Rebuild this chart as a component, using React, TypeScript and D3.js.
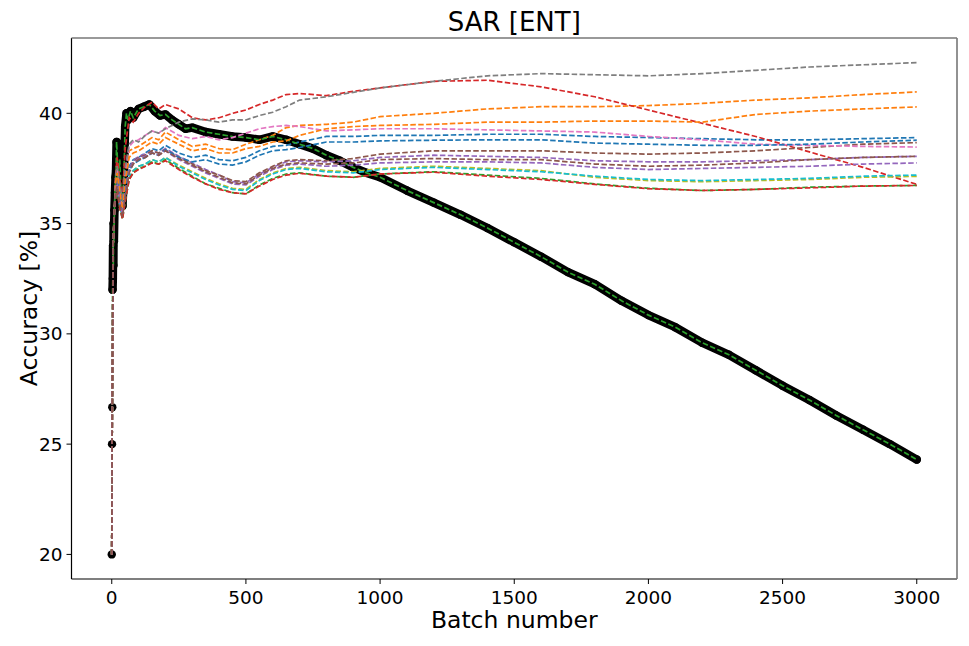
import * as d3 from 'd3';

// shared batch grid for the dashed comparison runs
const batches = [0, 2, 5, 10, 15, 20, 30, 40, 50, 65, 80, 100, 125, 150, 175, 200, 250, 300, 350, 400, 450, 500, 550, 600, 650, 700, 800, 900, 1000, 1200, 1400, 1600, 1800, 2000, 2200, 2400, 2600, 2800, 3000];

// main run (black markers + green dashes)
const mainBatches = [0, 1, 2, 3, 4, 5, 6, 7, 8, 10, 12, 14, 16, 18, 20, 25, 30, 35, 40, 45, 50, 55, 60, 70, 80, 100, 120, 140, 160, 180, 200, 225, 250, 275, 300, 350, 400, 450, 500, 550, 600, 650, 700, 750, 800, 850, 900, 950, 1000, 1100, 1200, 1300, 1400, 1500, 1600, 1700, 1800, 1900, 2000, 2100, 2200, 2300, 2400, 2500, 2600, 2700, 2800, 2900, 3000];
const mainAcc = [20, 25, 26.67, 32, 32.5, 34, 33.1, 35, 34.2, 35.6, 36.4, 37.1, 37.4, 38.7, 38.2, 36.8, 37.9, 36.3, 35.8, 37.2, 39.4, 40.0, 39.7, 40.1, 39.8, 40.2, 40.3, 40.4, 40.1, 39.9, 39.95, 39.7, 39.5, 39.3, 39.35, 39.15, 39.05, 38.95, 38.9, 38.8, 38.95, 38.8, 38.6, 38.4, 38.1, 37.85, 37.55, 37.3, 37.1, 36.5, 35.95, 35.4, 34.8, 34.15, 33.5, 32.8, 32.25, 31.5, 30.85, 30.3, 29.6, 29.05, 28.35, 27.65, 27.0, 26.3, 25.65, 25.0, 24.3];

const blueA = [20, 26.7, 34, 35.6, 36.8, 37.1, 36.2, 35.5, 36.6, 37.6, 37.9, 38.0, 38.2, 38.4, 38.3, 38.55, 38.2, 38.0, 38.1, 37.9, 37.85, 38.0, 38.3, 38.5, 38.55, 38.7, 38.95, 38.95, 39.0, 39.0, 39.05, 39.05, 38.95, 38.9, 38.85, 38.8, 38.8, 38.85, 38.9];
const orangeA = [20, 26.7, 34, 35.6, 37.0, 37.4, 36.6, 35.6, 37.2, 38.3, 38.4, 38.5, 38.7, 38.9, 38.8, 39.15, 38.8, 38.5, 38.6, 38.4, 38.35, 38.6, 38.8, 39.0, 39.35, 39.45, 39.5, 39.6, 39.85, 40.0, 40.2, 40.3, 40.3, 40.35, 40.45, 40.6, 40.7, 40.85, 40.97];
const redA = [20, 26.7, 34, 35.6, 37.3, 38.0, 37.0, 36.2, 38.4, 39.8, 39.6, 40.0, 40.3, 40.5, 40.2, 40.4, 40.2, 39.8, 39.7, 39.8, 40.0, 40.15, 40.4, 40.6, 40.85, 40.9, 40.8, 41.0, 41.15, 41.45, 41.5, 41.2, 40.75, 40.15, 39.55, 38.95, 38.25, 37.55, 36.78];
const purpleA = [20, 26.7, 34, 35.6, 36.6, 36.9, 36.1, 35.5, 36.4, 37.5, 37.85, 38.05, 38.15, 38.3, 38.2, 38.4, 38.05, 37.75, 37.45, 37.2, 36.9, 36.85, 37.25, 37.55, 37.8, 37.85, 37.8, 37.85, 38.0, 38.1, 38.05, 38.0, 37.85, 37.8, 37.8, 37.85, 37.9, 38.0, 38.05];
const brownA = [20, 26.7, 34, 35.6, 36.5, 36.8, 36.0, 35.4, 36.3, 37.4, 37.8, 38.0, 38.1, 38.3, 38.2, 38.35, 38.0, 37.7, 37.4, 37.2, 36.95, 36.9, 37.3, 37.6, 37.85, 37.9, 37.85, 37.95, 38.15, 38.3, 38.3, 38.3, 38.2, 38.15, 38.2, 38.3, 38.45, 38.6, 38.67];
const pink = [20, 26.7, 34, 35.6, 37.1, 37.5, 36.5, 35.7, 37.3, 38.5, 38.7, 38.8, 39.0, 39.2, 39.1, 39.35, 39.0, 38.85, 38.95, 38.8, 38.9, 39.1, 39.3, 39.4, 39.45, 39.4, 39.2, 39.25, 39.3, 39.3, 39.25, 39.2, 39.15, 38.95, 38.8, 38.6, 38.55, 38.5, 38.47];
const gray = [20, 26.7, 34, 35.6, 37.2, 37.6, 36.8, 36.0, 37.5, 38.6, 38.8, 38.7, 39.0, 39.2, 39.1, 39.3, 39.6, 39.75, 39.7, 39.6, 39.7, 39.7, 39.9, 40.05, 40.3, 40.6, 40.75, 40.95, 41.15, 41.45, 41.7, 41.8, 41.75, 41.7, 41.8, 41.95, 42.1, 42.2, 42.3];
const olive = [20, 26.7, 34, 35.6, 36.4, 36.6, 35.8, 35.3, 36.1, 37.1, 37.4, 37.6, 37.7, 37.9, 37.8, 38.0, 37.65, 37.35, 37.05, 36.8, 36.6, 36.55, 37.0, 37.3, 37.5, 37.55, 37.4, 37.35, 37.5, 37.6, 37.5, 37.4, 37.1, 36.95, 36.9, 36.95, 37.0, 37.1, 37.14];
const cyan = [20, 26.7, 34, 35.6, 36.4, 36.6, 35.8, 35.3, 36.1, 37.1, 37.4, 37.6, 37.7, 37.9, 37.8, 38.0, 37.6, 37.3, 37.0, 36.75, 36.55, 36.5, 36.95, 37.25, 37.45, 37.5, 37.35, 37.3, 37.45, 37.55, 37.45, 37.35, 37.15, 37.0, 36.95, 37.0, 37.05, 37.15, 37.2];
const blueB = [20, 26.7, 34, 35.6, 36.7, 37.0, 36.1, 35.4, 36.5, 37.4, 37.7, 37.85, 38.0, 38.2, 38.1, 38.35, 38.0, 37.8, 37.9, 37.7, 37.65, 37.8, 38.1, 38.3, 38.35, 38.45, 38.7, 38.7, 38.75, 38.78, 38.8, 38.8, 38.65, 38.6, 38.55, 38.55, 38.6, 38.7, 38.78];
const orangeB = [20, 26.7, 34, 35.6, 36.9, 37.3, 36.4, 35.5, 36.9, 38.0, 38.2, 38.3, 38.5, 38.7, 38.6, 38.9, 38.6, 38.3, 38.4, 38.2, 38.2, 38.4, 38.5, 38.7, 38.75, 39.0, 39.3, 39.4, 39.45, 39.5, 39.6, 39.6, 39.65, 39.65, 39.6, 39.95, 40.1, 40.2, 40.29];
const greenB = [20, 26.7, 34, 35.6, 36.3, 36.5, 35.7, 35.2, 36.0, 37.0, 37.3, 37.5, 37.6, 37.8, 37.7, 37.9, 37.5, 37.15, 36.8, 36.6, 36.4, 36.35, 36.75, 37.05, 37.25, 37.3, 37.15, 37.1, 37.25, 37.35, 37.2, 37.05, 36.8, 36.6, 36.5, 36.55, 36.65, 36.7, 36.73];
const redB = [20, 26.7, 34, 35.6, 36.3, 36.5, 35.7, 35.2, 36.0, 37.0, 37.3, 37.45, 37.6, 37.75, 37.7, 37.85, 37.45, 37.1, 36.8, 36.55, 36.4, 36.35, 36.7, 37.0, 37.2, 37.28, 37.15, 37.1, 37.25, 37.33, 37.15, 37.0, 36.78, 36.58, 36.5, 36.55, 36.62, 36.7, 36.73];
const purpleB = [20, 26.7, 34, 35.6, 36.5, 36.8, 36.0, 35.4, 36.3, 37.4, 37.75, 37.95, 38.05, 38.2, 38.1, 38.3, 37.9, 37.6, 37.3, 37.05, 36.8, 36.75, 37.15, 37.45, 37.65, 37.7, 37.6, 37.65, 37.75, 37.8, 37.8, 37.75, 37.55, 37.45, 37.5, 37.55, 37.6, 37.7, 37.75];
const brownB = [20, 26.7, 34, 35.6, 36.4, 36.7, 35.9, 35.3, 36.2, 37.3, 37.7, 37.9, 38.0, 38.2, 38.1, 38.3, 37.95, 37.65, 37.35, 37.1, 36.85, 36.8, 37.2, 37.5, 37.7, 37.75, 37.7, 37.75, 37.9, 37.95, 37.9, 37.9, 37.7, 37.6, 37.65, 37.75, 37.9, 38.0, 38.05];

const xTicks = [0, 500, 1000, 1500, 2000, 2500, 3000];
const yTicks = [20, 25, 30, 35, 40];

const W = 969;
const H = 646;
const left = 71.5;
const right = 957;
const top = 38;
const bottom = 579;

const App = () => {
  const x = d3.scaleLinear().domain([-150, 3150]).range([left, right]);
  const y = d3.scaleLinear().domain([18.885, 43.415]).range([bottom, top]);

  const lineOf = (xs: number[]) =>
    d3.line<number>().x((_, i) => x(xs[i])).y((d) => y(d));

  // draw order follows the matplotlib colour cycle
  const dashed: [number[], number[], string][] = [
    [batches, blueA, '#1f77b4'],
    [batches, orangeA, '#ff7f0e'],
    [mainBatches, mainAcc, '#2ca02c'],
    [batches, redA, '#d62728'],
    [batches, purpleA, '#9467bd'],
    [batches, brownA, '#8c564b'],
    [batches, pink, '#e377c2'],
    [batches, gray, '#7f7f7f'],
    [batches, olive, '#bcbd22'],
    [batches, cyan, '#17becf'],
    [batches, blueB, '#1f77b4'],
    [batches, orangeB, '#ff7f0e'],
    [batches, greenB, '#2ca02c'],
    [batches, redB, '#d62728'],
    [batches, purpleB, '#9467bd'],
    [batches, brownB, '#8c564b'],
  ];

  // the first few markers stand apart; the rest overlap into a thick band
  const bandStart = 3;
  const bandXs = mainBatches.slice(bandStart);
  const bandYs = mainAcc.slice(bandStart);

  const font = 'DejaVu Sans, sans-serif';

  return (
    <svg width={W} height={H} style={{ position: 'absolute', left: 0, top: 0, background: '#fff' }}>
      <defs>
        <clipPath id="plot">
          <rect x={left} y={top} width={right - left} height={bottom - top} />
        </clipPath>
      </defs>
      <g clipPath="url(#plot)">
        <path
          d={lineOf(bandXs)(bandYs) || ''}
          fill="none"
          stroke="#000"
          strokeWidth={8.5}
          strokeLinejoin="round"
          strokeLinecap="round"
        />
        {mainAcc.map((d, i) => (
          <circle key={i} cx={x(mainBatches[i])} cy={y(d)} r={4.2} fill="#000" />
        ))}
        {dashed.map(([xs, ys, c], i) => (
          <path
            key={i}
            d={lineOf(xs)(ys) || ''}
            fill="none"
            stroke={c}
            strokeWidth={1.7}
            strokeDasharray="5.5,2.4"
          />
        ))}
      </g>

      {/* spines */}
      <line x1={left} x2={left} y1={top} y2={bottom} stroke="#000" strokeWidth={1.2} />
      <line x1={left} x2={right} y1={bottom} y2={bottom} stroke="#000" strokeWidth={1.2} />
      <line x1={left} x2={right} y1={top} y2={top} stroke="#777" strokeWidth={1.6} />
      <line x1={right} x2={right} y1={top} y2={bottom} stroke="#777" strokeWidth={1.6} />

      {xTicks.map((t) => (
        <g key={t} transform={`translate(${x(t)},${bottom})`}>
          <line y2={5} stroke="#000" strokeWidth={1} />
          <text y={25} textAnchor="middle" fontSize={18.5} fontFamily={font} fill="#000">
            {t}
          </text>
        </g>
      ))}
      {yTicks.map((t) => (
        <g key={t} transform={`translate(${left},${y(t)})`}>
          <line x2={-5} stroke="#000" strokeWidth={1} />
          <text x={-9} dy="0.35em" textAnchor="end" fontSize={18.5} fontFamily={font} fill="#000">
            {t}
          </text>
        </g>
      ))}

      <text x={(left + right) / 2} y={31} textAnchor="middle" fontSize={26} fontFamily={font} fill="#000">
        SAR [ENT]
      </text>
      <text x={(left + right) / 2} y={628} textAnchor="middle" fontSize={23.5} fontFamily={font} fill="#000">
        Batch number
      </text>
      <text
        transform={`translate(37,${(top + bottom) / 2}) rotate(-90)`}
        textAnchor="middle"
        fontSize={23.5}
        fontFamily={font}
        fill="#000"
      >
        Accuracy [%]
      </text>
    </svg>
  );
};

export default App;
